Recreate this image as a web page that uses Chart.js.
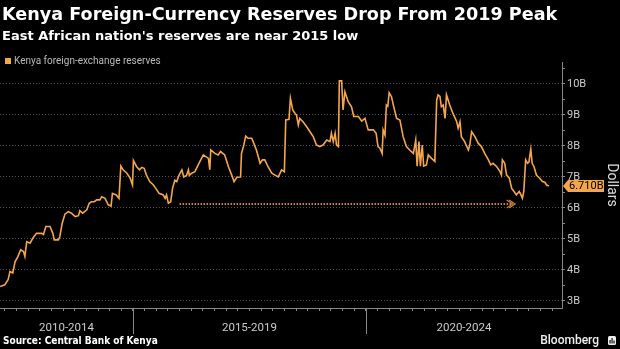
<!DOCTYPE html>
<html>
<head>
<meta charset="utf-8">
<script src="https://cdn.jsdelivr.net/npm/chart.js@4.4.1/dist/chart.umd.min.js"></script>
<style>
  html, body { margin: 0; padding: 0; background: #000; }
  #wrap { position: relative; width: 620px; height: 349px; overflow: hidden; background: #000; }
  #myChart { position: absolute; left: 0; top: 0; }
  .title { position: absolute; left: 2px; top: 4px; color: #fff; font: bold 17.6px 'DejaVu Sans'; white-space: nowrap; }
  .subtitle { position: absolute; left: 2px; top: 28px; color: #fff; font: bold 13px 'DejaVu Sans'; white-space: nowrap; }
  .legend { position: absolute; left: 5px; top: 55px; color: #bbb; font: 10px Roboto; white-space: nowrap; }
  .legend span { display: inline-block; width: 6px; height: 6px; background: #f4a64c; margin-right: 3px; }
  .source { position: absolute; left: 3px; top: 335px; color: #fff; font: bold 10px 'DejaVu Sans Condensed'; white-space: nowrap; }
  .logo { position: absolute; right: 4px; top: 333px; color: #eee; font: 500 12px Roboto; white-space: nowrap; }
  .logo svg { vertical-align: -1px; margin-left: 9px; }
</style>
</head>
<body>
<div id="wrap">
  <canvas id="myChart" width="620" height="349"></canvas>
  <div class="title">Kenya Foreign-Currency Reserves Drop From 2019 Peak</div>
  <div class="subtitle">East African nation's reserves are near 2015 low</div>
  <div class="legend"><span></span>Kenya foreign-exchange reserves</div>
  <div class="source">Source: Central Bank of Kenya</div>
  <div class="logo">Bloomberg<svg width="8" height="9" viewBox="0 0 8 9"><rect x="0" y="0" width="8" height="9" rx="1.5" fill="#eee"/><rect x="1.5" y="4" width="1.1" height="3.5" fill="#000"/><rect x="3.5" y="2" width="1.1" height="5.5" fill="#000"/><rect x="5.5" y="4.5" width="1.1" height="3" fill="#000"/></svg></div>
</div>
<script>
// reserves, billions of dollars, by decimal year
const dates = [
  2012.15, 2012.25, 2012.32, 2012.36, 2012.42, 2012.47, 2012.53, 2012.59, 2012.65, 2012.68,
  2012.72, 2012.79, 2012.85, 2012.93, 2013.04, 2013.08, 2013.13, 2013.22, 2013.28, 2013.31,
  2013.40, 2013.43, 2013.48, 2013.54, 2013.61, 2013.68, 2013.76, 2013.83, 2013.86, 2013.92,
  2014.01, 2014.06, 2014.11, 2014.17, 2014.22, 2014.29, 2014.33, 2014.40, 2014.47, 2014.53,
  2014.56, 2014.64, 2014.70, 2014.74, 2014.79, 2014.87, 2014.94, 2014.99, 2015.01, 2015.08,
  2015.14, 2015.19, 2015.24, 2015.29, 2015.36, 2015.44, 2015.49, 2015.56, 2015.65, 2015.69,
  2015.72, 2015.76, 2015.81, 2015.85, 2015.90, 2015.94, 2015.99, 2016.05, 2016.09, 2016.15,
  2016.19, 2016.21, 2016.26, 2016.33, 2016.40, 2016.51, 2016.62, 2016.65, 2016.67, 2016.76,
  2016.83, 2016.88, 2016.97, 2017.05, 2017.12, 2017.17, 2017.23, 2017.31, 2017.33, 2017.38,
  2017.42, 2017.47, 2017.55, 2017.58, 2017.65, 2017.73, 2017.78, 2017.83, 2017.90, 2017.98,
  2018.05, 2018.12, 2018.19, 2018.25, 2018.28, 2018.35, 2018.38, 2018.43, 2018.48, 2018.51,
  2018.55, 2018.58, 2018.65, 2018.73, 2018.80, 2018.87, 2018.94, 2019.01, 2019.08, 2019.16,
  2019.23, 2019.26, 2019.30, 2019.34, 2019.37, 2019.41, 2019.43, 2019.48, 2019.51, 2019.55,
  2019.62, 2019.69, 2019.74, 2019.84, 2019.91, 2019.98, 2020.05, 2020.16, 2020.22, 2020.26,
  2020.30, 2020.35, 2020.37, 2020.41, 2020.44, 2020.47, 2020.50, 2020.55, 2020.59, 2020.66,
  2020.73, 2020.80, 2020.87, 2020.94, 2021.02, 2021.07, 2021.10, 2021.14, 2021.17, 2021.21,
  2021.24, 2021.30, 2021.34, 2021.41, 2021.48, 2021.52, 2021.55, 2021.59, 2021.62, 2021.66,
  2021.70, 2021.73, 2021.80, 2021.87, 2021.95, 2021.98, 2022.02, 2022.05, 2022.12, 2022.20,
  2022.23, 2022.27, 2022.34, 2022.41, 2022.48, 2022.55, 2022.63, 2022.68, 2022.73, 2022.81,
  2022.88, 2022.91, 2022.93, 2022.98, 2023.02, 2023.08, 2023.13, 2023.18, 2023.23, 2023.29,
  2023.33, 2023.36, 2023.39, 2023.43, 2023.47, 2023.50, 2023.54, 2023.57, 2023.61, 2023.66,
  2023.73, 2023.79, 2023.84, 2023.88, 2023.93
];
const reserves = [
  3.46, 3.52, 3.68, 3.95, 3.90, 4.27, 4.43, 4.65, 4.59, 4.43,
  4.91, 4.86, 5.02, 5.18, 5.18, 5.14, 5.40, 5.40, 5.18, 4.97,
  4.97, 5.07, 5.50, 5.80, 5.88, 5.83, 5.72, 5.75, 5.91, 5.83,
  5.94, 6.15, 6.20, 6.20, 6.26, 6.26, 6.36, 6.31, 6.10, 6.06,
  6.47, 6.42, 6.31, 7.35, 7.23, 7.12, 6.96, 6.74, 7.53, 7.33,
  7.23, 7.31, 7.28, 7.06, 6.85, 6.74, 6.63, 6.47, 6.42, 6.31,
  6.42, 6.15, 6.20, 6.63, 6.90, 6.85, 7.06, 7.23, 7.00, 7.05,
  7.23, 7.05, 7.12, 7.17, 7.39, 7.71, 7.60, 7.23, 7.87, 7.76,
  7.71, 7.82, 7.71, 7.33, 7.06, 6.85, 6.99, 7.00, 7.76, 8.03,
  8.32, 8.25, 8.25, 8.14, 7.87, 7.44, 7.55, 7.55, 7.33, 7.12,
  7.06, 7.00, 7.23, 7.17, 8.84, 8.86, 9.54, 9.16, 9.05, 9.00,
  8.68, 8.89, 8.78, 8.62, 8.46, 8.30, 8.03, 7.98, 8.03, 8.19,
  8.14, 8.41, 8.14, 8.41, 8.03, 7.98, 10.10, 10.10, 9.16, 9.75,
  9.43, 9.27, 8.95, 8.95, 8.80, 8.89, 8.52, 8.52, 8.41, 7.98,
  7.93, 7.76, 8.52, 8.35, 9.32, 9.28, 9.72, 9.59, 9.32, 8.89,
  8.84, 8.30, 7.98, 7.87, 7.76, 8.19, 7.35, 8.14, 7.35, 8.03,
  7.35, 7.39, 7.71, 7.60, 7.50, 9.48, 9.65, 9.60, 9.27, 9.32,
  8.89, 9.65, 9.32, 9.05, 8.78, 8.57, 8.78, 8.30, 8.14, 7.87,
  8.03, 8.46, 8.30, 8.09, 7.98, 7.76, 7.55, 7.39, 7.44, 7.33,
  7.17, 7.06, 7.55, 7.44, 7.06, 6.96, 6.63, 6.53, 6.42, 6.53,
  6.42, 6.31, 6.53, 7.55, 7.44, 7.48, 7.90, 7.44, 7.33, 7.06,
  6.96, 6.85, 6.83, 6.74, 6.71
];

// arrow from the 2015 low across to today
const arrowDates = [2016.0, 2023.15];
const arrowLevel = [6.13, 6.13];

const periodLabels = ['2010-2014', '2015-2019', '2020-2024'];
const periodBreaks = [2015, 2020];
const yTicks = [3, 3.5, 4, 4.5, 5, 5.5, 6, 6.5, 7, 7.5, 8, 8.5, 9, 9.5, 10, 10.5];

const xMin = 2012.146;
const xMax = 2024.21;
const lineColor = '#f4a64c';

// quarter marks on the time axis
const quarters = [];
for (let q = 2012.25; q < xMax; q += 0.25) quarters.push(q);

const points = dates.map((d, i) => ({ x: d, y: reserves[i] }));
const arrowPts = arrowDates.map((d, i) => ({ x: d, y: arrowLevel[i] }));

// period labels, separators, arrow head and latest value tag
const extras = {
  id: 'extras',
  afterDraw(chart) {
    const { ctx, chartArea } = chart;
    const x = chart.scales.x;
    const y = chart.scales.y;
    ctx.save();

    ctx.strokeStyle = '#888';
    ctx.lineWidth = 1;
    periodBreaks.forEach(b => {
      const px = Math.round(x.getPixelForValue(b)) + 0.5;
      ctx.beginPath();
      ctx.moveTo(px, chartArea.bottom);
      ctx.lineTo(px, chartArea.bottom + 26);
      ctx.stroke();
    });

    const edges = [x.min, ...periodBreaks, x.max];
    ctx.fillStyle = '#ccc';
    ctx.font = '11.5px Roboto';
    ctx.textAlign = 'center';
    ctx.textBaseline = 'middle';
    periodLabels.forEach((lab, i) => {
      const c = (x.getPixelForValue(edges[i]) + x.getPixelForValue(edges[i + 1])) / 2;
      ctx.fillText(lab, c, chartArea.bottom + 20);
    });

    // arrow head
    const meta = chart.getDatasetMeta(1);
    const tip = meta.data[meta.data.length - 1];
    ctx.strokeStyle = '#c8843c';
    ctx.lineWidth = 1.2;
    [0, 2.5].forEach(off => {
      ctx.beginPath();
      ctx.moveTo(tip.x - 6 + off, tip.y - 4);
      ctx.lineTo(tip.x + off, tip.y);
      ctx.lineTo(tip.x - 6 + off, tip.y + 4);
      ctx.stroke();
    });

    // latest value tag on the axis
    const last = reserves[reserves.length - 1];
    const cy = y.getPixelForValue(last);
    const l = chartArea.right + 1;
    ctx.fillStyle = lineColor;
    ctx.beginPath();
    ctx.moveTo(l, cy);
    ctx.lineTo(l + 5, cy - 6);
    ctx.lineTo(l + 41, cy - 6);
    ctx.lineTo(l + 41, cy + 6);
    ctx.lineTo(l + 5, cy + 6);
    ctx.closePath();
    ctx.fill();
    ctx.fillStyle = '#000';
    ctx.font = '11px Roboto';
    ctx.textAlign = 'left';
    ctx.fillText(last.toFixed(3) + 'B', l + 6, cy + 0.5);

    ctx.restore();
  }
};

const config = {
  type: 'line',
  data: {
    datasets: [{
      label: 'Kenya foreign-exchange reserves',
      data: points,
      borderColor: lineColor,
      borderWidth: 1.6,
      pointRadius: 0,
      tension: 0
    }, {
      label: 'arrow',
      data: arrowPts,
      borderColor: '#c8843c',
      borderWidth: 2,
      borderDash: [1.5, 1.5],
      pointRadius: 0
    }]
  },
  options: {
    responsive: false,
    animation: false,
    layout: { padding: { top: 62, left: 0, right: 0, bottom: 0 } },
    plugins: {
      legend: { display: false },
      tooltip: { enabled: false }
    },
    scales: {
      x: {
        type: 'linear',
        min: xMin,
        max: xMax,
        afterBuildTicks: s => { s.ticks = quarters.map(v => ({ value: v })); },
        afterFit: s => { s.height = 41; },
        grid: { drawOnChartArea: false, tickColor: '#888', tickLength: 3 },
        border: { color: '#888' },
        ticks: { display: false }
      },
      y: {
        position: 'right',
        min: 2.77,
        max: 10.71,
        afterBuildTicks: s => { s.ticks = yTicks.map(v => ({ value: v })); },
        afterFit: s => { s.width = 58; },
        grid: {
          color: c => Number.isInteger(c.tick.value) ? '#555' : 'rgba(0,0,0,0)',
          tickColor: '#888',
          tickLength: 3
        },
        border: { color: '#888', dash: [1, 2] },
        ticks: {
          color: '#ccc',
          font: { family: 'Roboto', size: 11 },
          padding: 2,
          callback: v => Number.isInteger(v) ? v + 'B' : ''
        },
        title: {
          display: true,
          text: 'Dollars',
          color: '#ddd',
          font: { family: 'Roboto', size: 14 },
          padding: { top: 0, bottom: 2 }
        }
      }
    }
  },
  plugins: [extras]
};

const myChart = new Chart(document.getElementById('myChart'), config);
</script>
</body>
</html>
